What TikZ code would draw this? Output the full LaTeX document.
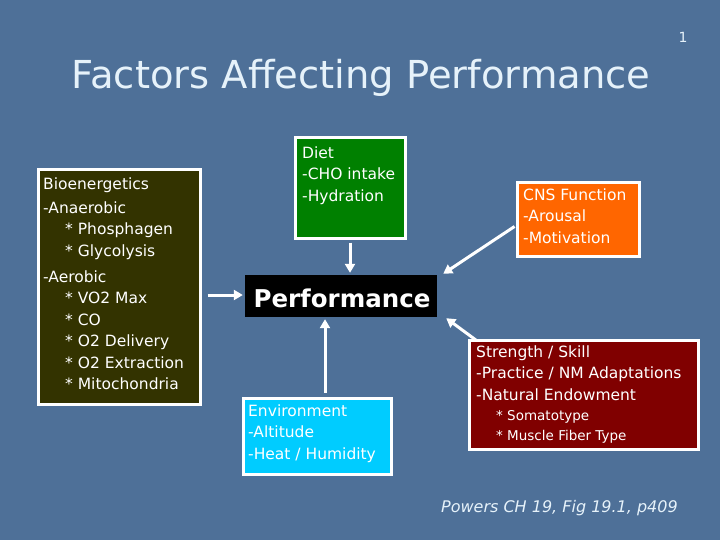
\documentclass[tikz,border=0pt]{standalone}
\usepackage{fontspec}
\setmainfont{DejaVu Sans}
\usetikzlibrary{arrows.meta,calc}
\definecolor{bgblue}{RGB}{78,112,152}
\definecolor{titlecol}{RGB}{230,242,250}
\definecolor{bioc}{RGB}{51,51,0}
\definecolor{dietc}{RGB}{0,128,0}
\definecolor{cnsc}{RGB}{255,102,0}
\definecolor{strc}{RGB}{128,0,0}
\definecolor{envc}{RGB}{0,204,255}
\tikzset{
  box/.style={draw=white, line width=3pt, anchor=north west, inner sep=0pt},
  boxtext/.style={text=white, align=left, anchor=north west, inner sep=0pt,
    font=\fontsize{15.5}{21.5}\selectfont},
  conn/.style={draw=white, line width=3pt, -{Triangle[width=10pt,length=9pt]}},
}
\newcommand{\ind}{\hspace*{22pt}}
\newcommand{\mysubitem}[1]{{\fontsize{13.5}{20}\selectfont\hspace*{20pt}* #1}}
\begin{document}
\begin{tikzpicture}[x=1pt,y=-1pt]
\fill[bgblue] (0,0) rectangle (720,540);
\useasboundingbox (0,0) rectangle (720,540);
% page number
\node[text=titlecol, font=\fontsize{14}{16}\selectfont, anchor=base] (pg) at (683,43) {1};
% title
\node[text=titlecol, anchor=base, inner sep=0pt, font=\fontsize{38.5}{44}\selectfont] (title) at (361,89) {Factors Affecting Performance};
% boxes
\node[box, fill=bioc, minimum width=162pt, minimum height=234pt] (bio) at (36.5,168.5) {};
\node[boxtext] (bioT) at (43,173.95)
 {\strut Bioenergetics\\[2.5pt]-Anaerobic\\\ind* Phosphagen\\\ind* Glycolysis\\[4.5pt]-Aerobic\\\ind* VO2 Max\\\ind* CO\\\ind* O2 Delivery\\\ind* O2 Extraction\\\ind* Mitochondria};
\node[box, fill=dietc, minimum width=110pt, minimum height=100pt] (diet) at (293.5,136.5) {};
\node[boxtext] (dietT) at (302,142.95) {\strut Diet\\-CHO intake\\-Hydration};
\node[box, fill=cnsc, minimum width=122pt, minimum height=73pt] (cns) at (515.5,181.5) {};
\node[boxtext] (cnsT) at (523,184.95) {\strut CNS Function\\-Arousal\\-Motivation};
\node[box, fill=strc, minimum width=229pt, minimum height=109pt] (str) at (467.5,338.5) {};
\node[boxtext] (strT) at (476,341.95)
 {\strut Strength / Skill\\-Practice / NM Adaptations\\-Natural Endowment\\[-1.5pt]
 \mysubitem{Somatotype}\\[-1.5pt]\mysubitem{Muscle Fiber Type}};
\node[box, fill=envc, minimum width=148pt, minimum height=76pt] (env) at (241.5,396.5) {};
\node[boxtext] (envT) at (248,400.95) {\strut Environment\\-Altitude\\-Heat / Humidity};
\node[fill=black, minimum width=192pt, minimum height=42pt, inner sep=0pt] (perf) at (341,296) {};
\node[text=white, anchor=base, inner sep=0pt, font=\fontsize{24.5}{28}\selectfont\bfseries] (perfT) at (342,307) {Performance};
% connectors
\draw[conn] ($(bio.east |- perf.west)+(6,-1)$) -- ($(perf.west)+(-2,-1)$);
\draw[conn] ($(diet.south)+(0,3)$) -- ($(diet.south |- perf.north)+(0,-2)$);
\draw[conn] ($(cns.west)+(-1,7)$) -- ($(perf.north east)+(6,-1)$);
\draw[conn] ($(str.north west)+(9,2)$) -- ($(perf.south east)+(9,1)$);
\coordinate (envtop) at ($(env.north)+(8,-4)$);
\draw[conn] (envtop) -- (envtop |- {$(perf.south)+(0,2)$});
% source
\node[text=titlecol, anchor=base west, inner sep=0pt, font=\fontsize{16}{18}\selectfont\itshape] (src) at (441,512) {Powers CH 19, Fig 19.1, p409};
\end{tikzpicture}
\end{document}
